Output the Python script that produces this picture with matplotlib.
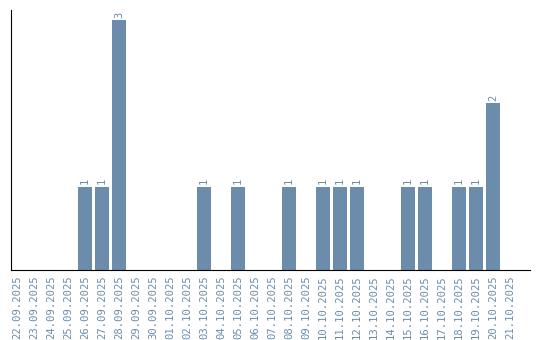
import matplotlib
matplotlib.use("Agg")
import matplotlib.pyplot as plt
import numpy as np

dates = ["22.09.2025", "23.09.2025", "24.09.2025", "25.09.2025", "26.09.2025",
         "27.09.2025", "28.09.2025", "29.09.2025", "30.09.2025", "01.10.2025",
         "02.10.2025", "03.10.2025", "04.10.2025", "05.10.2025", "06.10.2025",
         "07.10.2025", "08.10.2025", "09.10.2025", "10.10.2025", "11.10.2025",
         "12.10.2025", "13.10.2025", "14.10.2025", "15.10.2025", "16.10.2025",
         "17.10.2025", "18.10.2025", "19.10.2025", "20.10.2025", "21.10.2025"]
counts = [0, 0, 0, 0, 1, 1, 3, 0, 0, 0,
          0, 1, 0, 1, 0, 0, 1, 0, 1, 1,
          1, 0, 0, 1, 1, 0, 1, 1, 2, 0]

col = "#6b8cab"

fig = plt.figure(figsize=(5.4, 3.4), dpi=100)
ax = fig.add_axes([11/540, 70/340, 519/540, 260/340])

x = np.arange(len(dates))
bars = ax.bar(x, counts, width=0.8, color=col)

for xi, v in zip(x, counts):
    if v > 0:
        ax.text(xi, v + 0.03, str(v), rotation=90, ha="center", va="bottom",
                fontsize=7.5, color=col, family="DejaVu Sans Mono")

ax.set_xlim(-0.35, len(dates) - 1 + 1.18)
ax.set_ylim(0, 3.12)
ax.set_xticks(x)
ax.set_xticklabels(dates, rotation=90, fontsize=7.6, color=col,
                   family="DejaVu Sans Mono")
ax.tick_params(axis="x", length=0, pad=4)
ax.set_yticks([])
ax.spines["top"].set_visible(False)
ax.spines["right"].set_visible(False)

fig.savefig("out.png", dpi=100)
